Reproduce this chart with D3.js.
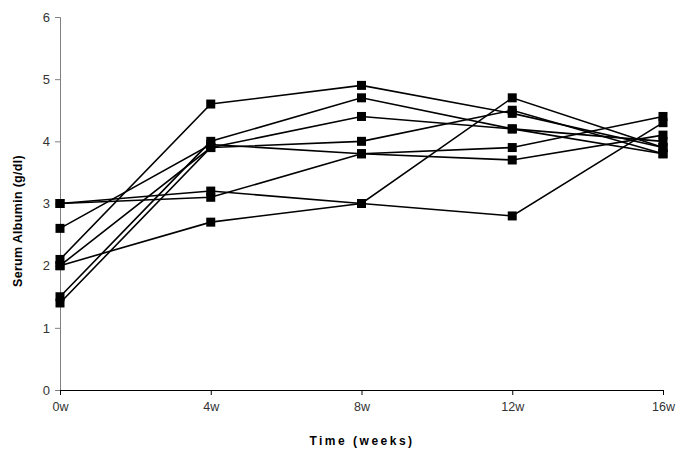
<!DOCTYPE html>
<html>
<head>
<meta charset="utf-8">
<script src="https://cdn.jsdelivr.net/npm/d3@7"></script>
<style>
  body { margin: 0; background: #fff; }
  text { font-family: "Liberation Sans", Arial, sans-serif; }
</style>
</head>
<body>
<svg id="chart"></svg>
<script>
const width = 685;
const height = 454;

// categories and patient series (g/dl)
const weeks = ["0w", "4w", "8w", "12w", "16w"];
const p1 = [2.1, 4.6, 4.9, 4.45, 3.9];
const p2 = [3.0, 3.2, 3.0, 2.8, 4.3];
const p3 = [2.0, 2.7, 3.0, 4.7, 3.9];
const p4 = [3.0, 3.1, 3.8, 3.9, 4.4];
const p5 = [2.6, 3.95, 3.8, 3.7, 4.1];
const p6 = [2.0, 3.9, 4.0, 4.5, 3.8];
const p7 = [1.5, 4.0, 4.7, 4.2, 4.0];
const p8 = [1.4, 3.9, 4.4, 4.2, 3.8];
const yTicks = [0, 1, 2, 3, 4, 5, 6];

const patients = [p1, p2, p3, p4, p5, p6, p7, p8];

var svg = d3.select("#chart")
    .attr("width", width)
    .attr("height", height);

var x = d3.scalePoint()
    .domain(weeks)
    .range([60, 663]);

var y = d3.scaleLinear()
    .domain([0, 6])
    .range([390, 17]);

// y axis
const yAxis = svg.append("g")
    .attr("transform", "translate(60,0)")
    .call(d3.axisLeft(y).tickValues(yTicks).tickSize(5).tickPadding(5).tickFormat(d3.format("d")));
yAxis.select(".domain").attr("stroke", "#808080").attr("stroke-width", 1);
yAxis.selectAll(".tick line").attr("stroke", "#808080");
yAxis.selectAll("text")
    .attr("fill", "#333")
    .style("font-size", "13px")
    .style("font-family", "Liberation Sans, Arial, sans-serif");

// x axis
const xAxis = svg.append("g")
    .attr("transform", "translate(0,390)")
    .call(d3.axisBottom(x).tickSize(5).tickPadding(7));
xAxis.select(".domain").attr("stroke", "#000").attr("stroke-width", 1);
xAxis.selectAll(".tick line").attr("stroke", "#000");
xAxis.selectAll("text")
    .attr("fill", "#333")
    .style("font-size", "12.5px")
    .style("font-family", "Liberation Sans, Arial, sans-serif");

// axis titles
svg.append("text")
    .attr("x", 362)
    .attr("y", 445)
    .attr("text-anchor", "middle")
    .style("font-size", "12px")
    .style("font-weight", "bold")
    .style("letter-spacing", "2.5px")
    .text("Time (weeks)");

svg.append("text")
    .attr("transform", "translate(22,221) rotate(-90)")
    .attr("text-anchor", "middle")
    .style("font-size", "12.5px")
    .style("font-weight", "bold")
    .style("letter-spacing", "0.3px")
    .text("Serum Albumin (g/dl)");

// lines
const line = d3.line()
    .x((d, i) => x(weeks[i]))
    .y(d => y(d));

const lineGroup = svg.append("g").attr("class", "lines");
lineGroup.selectAll("path")
    .data(patients)
    .enter().append("path")
    .attr("fill", "none")
    .attr("stroke", "#000")
    .attr("stroke-width", 1.6)
    .attr("d", line);

// square markers
const markerSize = 9;
const markerGroup = svg.append("g").attr("class", "markers");
patients.forEach(p => {
    markerGroup.selectAll(null)
        .data(p)
        .enter().append("rect")
        .attr("x", (d, i) => x(weeks[i]) - markerSize / 2)
        .attr("y", d => y(d) - markerSize / 2)
        .attr("width", markerSize)
        .attr("height", markerSize)
        .attr("fill", "#000");
});
</script>
</body>
</html>
